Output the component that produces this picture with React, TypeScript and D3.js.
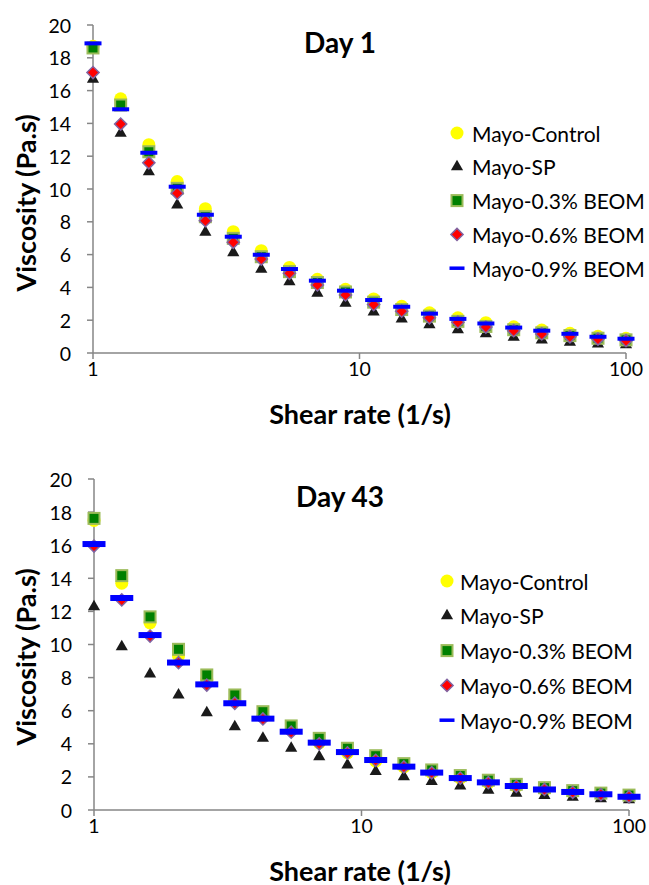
import * as d3 from "d3";
import { useEffect, useRef } from "react";

// shear rate steps (1/s)
const shearRate = [1, 1.27, 1.62, 2.07, 2.64, 3.36, 4.28, 5.46, 6.95, 8.86, 11.3, 14.4, 18.3, 23.4, 29.8, 37.9, 48.3, 61.6, 78.5, 100];

const seriesNames = ["Mayo-Control", "Mayo-SP", "Mayo-0.3% BEOM", "Mayo-0.6% BEOM", "Mayo-0.9% BEOM"];

// Day 1 viscosity (Pa.s)
const day1Control = [18.7, 15.5, 12.7, 10.45, 8.8, 7.4, 6.24, 5.22, 4.49, 3.88, 3.3, 2.85, 2.45, 2.15, 1.85, 1.6, 1.4, 1.2, 1.02, 0.9];
const day1SP = [16.7, 13.4, 11.05, 9.02, 7.36, 6.12, 5.1, 4.35, 3.64, 3.03, 2.5, 2.07, 1.73, 1.42, 1.18, 0.96, 0.8, 0.66, 0.55, 0.5];
const day1B03 = [18.6, 15.12, 12.27, 10.04, 8.31, 6.99, 5.87, 4.96, 4.3, 3.72, 3.1, 2.65, 2.25, 1.93, 1.62, 1.42, 1.23, 1.06, 0.9, 0.8];
const day1B06 = [17.1, 13.96, 11.6, 9.74, 8.07, 6.75, 5.73, 4.86, 4.15, 3.54, 2.95, 2.55, 2.15, 1.88, 1.58, 1.36, 1.16, 0.99, 0.85, 0.75];
const day1B09 = [18.88, 14.86, 12.21, 10.14, 8.43, 7.09, 5.99, 5.12, 4.41, 3.8, 3.23, 2.82, 2.4, 2.08, 1.8, 1.55, 1.36, 1.17, 0.99, 0.87];

// Day 43 viscosity (Pa.s)
const day43Control = [17.5, 13.7, 11.3, 9.3, 7.85, 6.65, 5.65, 4.85, 4.05, 3.45, 2.95, 2.6, 2.25, 1.93, 1.65, 1.42, 1.22, 1.05, 0.93, 0.8];
const day43SP = [12.28, 9.87, 8.22, 6.95, 5.88, 5.03, 4.33, 3.73, 3.22, 2.72, 2.32, 2.01, 1.72, 1.45, 1.2, 1.02, 0.88, 0.77, 0.68, 0.62];
const day43B03 = [17.62, 14.16, 11.67, 9.71, 8.16, 6.95, 5.94, 5.08, 4.33, 3.73, 3.28, 2.8, 2.42, 2.08, 1.8, 1.55, 1.35, 1.17, 1.02, 0.9];
const day43B06 = [15.95, 12.69, 10.51, 8.9, 7.55, 6.45, 5.5, 4.7, 4.0, 3.45, 3.0, 2.6, 2.25, 1.93, 1.65, 1.43, 1.24, 1.07, 0.93, 0.8];
const day43B09 = [16.07, 12.81, 10.57, 8.91, 7.59, 6.45, 5.52, 4.73, 4.07, 3.5, 3.02, 2.62, 2.26, 1.93, 1.67, 1.45, 1.24, 1.09, 0.95, 0.8];

const yTicks = [0, 2, 4, 6, 8, 10, 12, 14, 16, 18, 20];
const xTicks = [1, 10, 100];

const FONT = "Lato, 'Open Sans', sans-serif";
const AXIS = "#868686";

// draw one marker of the given series index into g at (cx, cy)
function marker(g, kind, cx, cy, dash) {
  if (kind === 0) {
    g.append("circle").attr("cx", cx).attr("cy", cy).attr("r", 6.5).attr("fill", "#FFFF00");
  } else if (kind === 1) {
    g.append("path")
      .attr("d", d3.symbol(d3.symbolTriangle, 64)())
      .attr("transform", `translate(${cx},${cy})`)
      .attr("fill", "#1a1a1a");
  } else if (kind === 2) {
    g.append("rect")
      .attr("x", cx - 5.5).attr("y", cy - 5.5)
      .attr("width", 11).attr("height", 11)
      .attr("fill", "#008000")
      .attr("stroke", "#9BBB59").attr("stroke-width", 2);
  } else if (kind === 3) {
    g.append("rect")
      .attr("x", -4.3).attr("y", -4.3)
      .attr("width", 8.6).attr("height", 8.6)
      .attr("transform", `translate(${cx},${cy}) rotate(45)`)
      .attr("fill", "#FF0000")
      .attr("stroke", "#8064A2").attr("stroke-width", 1.5);
  } else {
    g.append("rect")
      .attr("x", cx - dash[0] / 2).attr("y", cy - dash[1] / 2)
      .attr("width", dash[0]).attr("height", dash[1])
      .attr("fill", "#0000FF");
  }
}

function drawPanel(svg, p) {
  const x = d3.scaleLog().domain([1, 100]).range([p.left, p.right]);
  const y = d3.scaleLinear().domain([0, 20]).range([p.bottom, p.top]);
  const g = svg.append("g");

  // y axis
  g.append("line")
    .attr("x1", p.left).attr("x2", p.left)
    .attr("y1", y(20)).attr("y2", y(0))
    .attr("stroke", AXIS).attr("stroke-width", 1.5);
  yTicks.forEach((t) => {
    g.append("line")
      .attr("x1", p.left - 6).attr("x2", p.left)
      .attr("y1", y(t)).attr("y2", y(t))
      .attr("stroke", AXIS).attr("stroke-width", 1.5);
    g.append("text")
      .attr("x", p.left - 22).attr("y", y(t))
      .attr("text-anchor", "end").attr("dominant-baseline", "central")
      .style("font-family", FONT).style("font-size", "19.5px")
      .text(t);
  });

  // x axis
  g.append("line")
    .attr("x1", x(1)).attr("x2", x(100))
    .attr("y1", y(0)).attr("y2", y(0))
    .attr("stroke", AXIS).attr("stroke-width", 1.5);
  xTicks.forEach((t) => {
    g.append("line")
      .attr("x1", x(t)).attr("x2", x(t))
      .attr("y1", y(0)).attr("y2", y(0) + 6)
      .attr("stroke", AXIS).attr("stroke-width", 1.5);
    g.append("text")
      .attr("x", x(t)).attr("y", y(0) + 15)
      .attr("text-anchor", "middle").attr("dominant-baseline", "central")
      .style("font-family", FONT).style("font-size", "19.5px")
      .text(t);
  });

  // titles
  g.append("text")
    .attr("x", 340).attr("y", p.top + 28)
    .attr("text-anchor", "middle")
    .style("font-family", FONT).style("font-size", "28px").style("font-weight", "bold")
    .text(p.title);
  g.append("text")
    .attr("transform", `translate(25,${p.top + 178}) rotate(-90)`)
    .attr("text-anchor", "middle").attr("dominant-baseline", "central")
    .style("font-family", FONT).style("font-size", "27px").style("font-weight", "bold")
    .text("Viscosity (Pa.s)");
  g.append("text")
    .attr("x", 360).attr("y", y(0) + 60)
    .attr("text-anchor", "middle").attr("dominant-baseline", "central")
    .style("font-family", FONT).style("font-size", "27px").style("font-weight", "bold")
    .text("Shear rate (1/s)");

  // points, series drawn in order so later ones sit on top
  p.series.forEach((vals, k) => {
    const sg = g.append("g");
    vals.forEach((v, i) => marker(sg, k, x(shearRate[i]), y(v), p.dash));
  });

  // legend
  seriesNames.forEach((name, k) => {
    const ly = p.legendY + k * p.legendStep;
    marker(g, k, p.legendX, ly, [15, 3.5]);
    g.append("text")
      .attr("x", p.legendX + p.legendGap).attr("y", ly)
      .attr("dominant-baseline", "central")
      .style("font-family", FONT).style("font-size", "21px")
      .text(name);
  });
}

const App = () => {
  const ref = useRef(null);

  useEffect(() => {
    d3.select(ref.current).select("svg").remove();

    const svg = d3
      .select(ref.current)
      .append("svg")
      .attr("width", 649)
      .attr("height", 885)
      .style("position", "absolute")
      .style("left", "0px")
      .style("top", "0px")
      .style("background", "#fff");

    drawPanel(svg, {
      title: "Day 1",
      left: 93, right: 626, top: 25, bottom: 353,
      series: [day1Control, day1SP, day1B03, day1B06, day1B09],
      dash: [17, 4],
      legendX: 457, legendGap: 15, legendY: 133, legendStep: 33.8,
    });
    drawPanel(svg, {
      title: "Day 43",
      left: 94, right: 629, top: 479, bottom: 810,
      series: [day43Control, day43SP, day43B03, day43B06, day43B09],
      dash: [23, 6],
      legendX: 447, legendGap: 13, legendY: 581, legendStep: 34.8,
    });
  }, []);

  return <div ref={ref} />;
};

export default App;
